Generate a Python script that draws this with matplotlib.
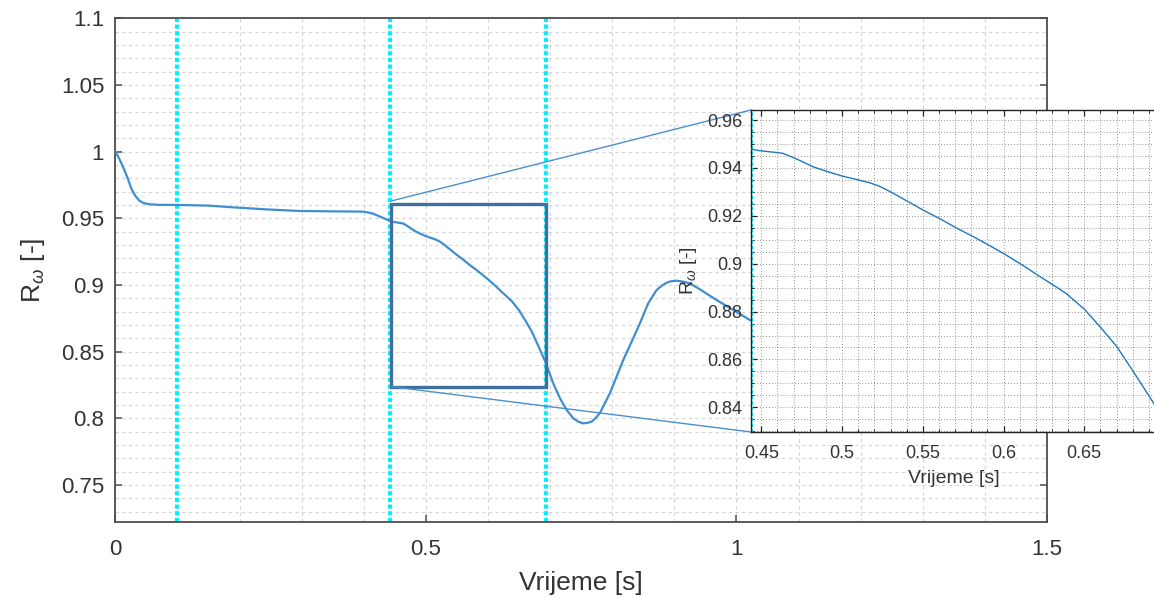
import numpy as np
import matplotlib
matplotlib.use("Agg")
import matplotlib.pyplot as plt
from matplotlib.patches import Rectangle, ConnectionPatch
from matplotlib.ticker import MultipleLocator

plt.rcParams['font.family'] = ['Liberation Sans', 'DejaVu Sans']
plt.rcParams['mathtext.fontset'] = 'custom'
plt.rcParams['mathtext.rm'] = 'Liberation Sans'
plt.rcParams['mathtext.it'] = 'Liberation Sans:italic'

# ---- data ----
t = [0.0, 0.005, 0.012, 0.020, 0.026, 0.032, 0.038, 0.045, 0.055, 0.070,
     0.100, 0.150, 0.190, 0.250, 0.297, 0.350, 0.399, 0.405, 0.415, 0.425,
     0.435, 0.4438, 0.4489, 0.4572, 0.4634, 0.4696, 0.4758, 0.4820, 0.4903,
     0.5006, 0.5089, 0.5171, 0.5233, 0.5295, 0.5399, 0.5502, 0.5605, 0.5709,
     0.5812, 0.5915, 0.6004, 0.6122, 0.6225, 0.6308, 0.6391, 0.6500, 0.6597,
     0.6701, 0.6804, 0.6930, 0.705, 0.7159, 0.7267, 0.7373, 0.745, 0.753,
     0.760, 0.767, 0.773, 0.780, 0.7963, 0.8178, 0.8313, 0.8446, 0.858,
     0.8715, 0.880, 0.8876, 0.895, 0.9037, 0.914, 0.9251, 0.9412, 0.968,
     0.9949, 1.0217, 1.10, 1.20, 1.30, 1.40, 1.50]
r_omega = [1.000, 0.996, 0.989, 0.980, 0.972, 0.967, 0.9635, 0.9615, 0.9605,
           0.9601, 0.9600, 0.9595, 0.9582, 0.9565, 0.9555, 0.9552, 0.9550,
           0.9545, 0.9535, 0.9515, 0.9495, 0.9478, 0.9472, 0.9466, 0.9461,
           0.9444, 0.9425, 0.9405, 0.9386, 0.9365, 0.9352, 0.9338, 0.9323,
           0.9302, 0.9263, 0.9224, 0.9188, 0.9149, 0.9113, 0.9075, 0.9041,
           0.8992, 0.8946, 0.8911, 0.8874, 0.8810, 0.8737, 0.8654, 0.8549,
           0.8417, 0.8263, 0.8150, 0.8062, 0.8000, 0.7975, 0.7962, 0.7965,
           0.7975, 0.8000, 0.8038, 0.8188, 0.8437, 0.8575, 0.8712, 0.8863,
           0.8962, 0.8995, 0.9017, 0.9028, 0.9032, 0.9025, 0.9012, 0.8967,
           0.8887, 0.8812, 0.8737, 0.862, 0.858, 0.861, 0.862, 0.862]
event_times = [0.1, 0.443, 0.693]
zoom_x = [0.4445, 0.6934]
zoom_y = [0.8237, 0.9605]
main_xticks = [0, 0.5, 1, 1.5]
main_xticklabels = ['0', '0.5', '1', '1.5']
main_yticks = [0.75, 0.8, 0.85, 0.9, 0.95, 1.0, 1.05, 1.1]
main_yticklabels = ['0.75', '0.8', '0.85', '0.9', '0.95', '1', '1.05', '1.1']
ins_xticks = [0.45, 0.5, 0.55, 0.6, 0.65]
ins_xticklabels = ['0.45', '0.5', '0.55', '0.6', '0.65']
ins_yticks = [0.84, 0.86, 0.88, 0.9, 0.92, 0.94, 0.96]
ins_yticklabels = ['0.84', '0.86', '0.88', '0.9', '0.92', '0.94', '0.96']

txt = '#333333'
spine_c = '#4d4d4d'
curve_c = '#3f8fd0'
cyan = '#00f0ff'

fig = plt.figure(figsize=(11.54, 5.98), dpi=100)

# ---- main axes ----
ax = fig.add_axes([115.3/1154, 1-522/598, (1047-115.3)/1154, (522-18.3)/598])
ax.set_xlim(0, 1.5)
ax.set_ylim(0.7222, 1.1)
ax.xaxis.set_minor_locator(MultipleLocator(0.1))
ax.yaxis.set_minor_locator(MultipleLocator(0.01))
ax.grid(which='both', color='#d4d4d4', linestyle=(0, (3, 3)), linewidth=0.8)
ax.set_axisbelow(True)
for ev in event_times:
    ax.axvline(ev, color=cyan, linestyle=(0, (1, 0.6)), linewidth=3, zorder=2)
ax.plot(t, r_omega, color=curve_c, linewidth=1.6, zorder=3, solid_joinstyle='round')
ax.add_patch(Rectangle((zoom_x[0], zoom_y[0]), zoom_x[1]-zoom_x[0], zoom_y[1]-zoom_y[0],
                       fill=False, edgecolor='#41709e', linewidth=2.4, zorder=4))
ax.set_xticks(main_xticks)
ax.set_xticklabels(main_xticklabels)
ax.set_yticks(main_yticks)
ax.set_yticklabels(main_yticklabels)
ax.tick_params(which='major', direction='in', length=5, width=1.1, color=spine_c,
               labelsize=16, labelcolor=txt, pad=12, top=False, right=True)
ax.tick_params(which='minor', length=0)
ax.tick_params(axis='y', pad=8)
for s in ax.spines.values():
    s.set_color(spine_c)
    s.set_linewidth(1.3)
ax.set_xlabel('Vrijeme [s]', fontsize=19, color=txt, labelpad=8)
ax.set_ylabel('R$_{\\omega}$ [-]', fontsize=19, color=txt, labelpad=10)

# ---- inset axes ----
axins = fig.add_axes([751/1154, 1-432/598, (1156-751)/1154, (432-110)/598], zorder=10)
axins.set_xlim(0.4436, 0.6944)
axins.set_ylim(0.8297, 0.9642)
axins.xaxis.set_minor_locator(MultipleLocator(0.01))
axins.yaxis.set_minor_locator(MultipleLocator(0.005))
axins.grid(which='both', color='#707070', linestyle=(0, (1, 2.5)), linewidth=0.6)
axins.set_axisbelow(True)
axins.axvline(event_times[1] + 0.0005, color=cyan, linestyle=(0, (1, 0.6)), linewidth=2.5, zorder=2)
axins.plot(t, r_omega, color='#1f78c1', linewidth=1.0, zorder=3, solid_joinstyle='round')
axins.set_xticks(ins_xticks)
axins.set_xticklabels(ins_xticklabels)
axins.set_yticks(ins_yticks)
axins.set_yticklabels(ins_yticklabels)
axins.tick_params(which='both', direction='in', color='#222222', top=True, right=False,
                  labelsize=13, labelcolor=txt)
axins.tick_params(which='major', length=4, width=0.9)
axins.tick_params(which='minor', length=2, width=0.7)
axins.tick_params(axis='x', pad=9)
axins.tick_params(axis='y', pad=6)
axins.spines['right'].set_visible(False)
for s in ['left', 'top', 'bottom']:
    axins.spines[s].set_color('#222222')
    axins.spines[s].set_linewidth(1.0)
axins.set_xlabel('Vrijeme [s]', fontsize=14, color=txt, labelpad=6)
axins.set_ylabel('R$_{\\omega}$ [-]', fontsize=14, color=txt, labelpad=6)

# ---- connector lines ----
for yA, yB in [(zoom_y[1] + 0.0025, 1.0), (zoom_y[0], 0.0)]:
    con = ConnectionPatch(xyA=(zoom_x[0], yA), coordsA=ax.transData,
                          xyB=(0.0, yB), coordsB=axins.transAxes,
                          color='#4a90d0', linewidth=1.0, zorder=5)
    fig.add_artist(con)

fig.savefig('out.png', dpi=100)
